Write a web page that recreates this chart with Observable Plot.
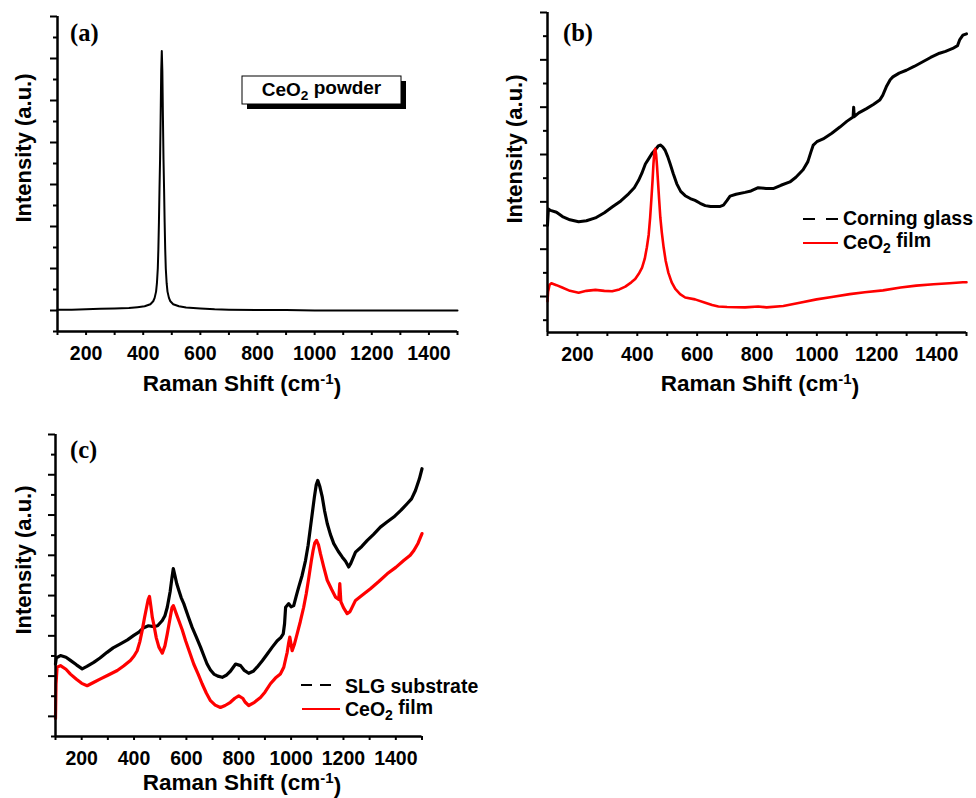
<!DOCTYPE html>
<html>
<head>
<meta charset="utf-8">
<script src="https://cdn.jsdelivr.net/npm/d3@7"></script>
<script src="https://cdn.jsdelivr.net/npm/@observablehq/plot@0.6"></script>
<style>
  html, body { margin: 0; padding: 0; background: #fff; }
  #wrap { position: relative; width: 976px; height: 798px; background: #fff; overflow: hidden; }
</style>
</head>
<body>
<div id="wrap"></div>
<script>
// ---------------- data (Raman shift cm^-1, intensity in arbitrary tick units) ----------------
const xTickValues = [100,200,300,400,500,600,700,800,900,1000,1100,1200,1300,1400,1500];
const xTickLabels = [200,400,600,800,1000,1200,1400];

// (a) CeO2 powder
const aPowder = [[100,0.02],[150,0.02],[200,0.03],[250,0.04],[300,0.05],[350,0.06],[380,0.08],[405,0.1],[425,0.15],[435,0.22],
  [440,0.3],[445,0.45],[448,0.65],[451,1.0],[453,1.45],[455,2.1],[457,2.9],[459,3.6],[461,4.6],[463,5.7],
  [465,6.18],[467,5.7],[469,4.6],[471,3.6],[473,2.9],[475,2.1],[477,1.45],[479,1.0],[482,0.65],[485,0.45],
  [490,0.3],[495,0.22],[505,0.15],[525,0.1],[550,0.07],[600,0.05],[650,0.03],[700,0.02],[800,0.01],[900,0.01],
  [1000,0],[1100,0],[1200,0],[1300,0],[1400,0],[1500,0]];

// (b) Corning glass and CeO2 film
const bGlass = [[100,1.5],[103,1.85],[110,1.82],[130,1.78],[150,1.69],[175,1.62],[204,1.58],[230,1.6],[260,1.66],[290,1.77],
  [316,1.89],[345,2.02],[371,2.17],[390,2.3],[404,2.45],[415,2.6],[427,2.8],[440,2.93],[449,3.02],[460,3.1],
  [470,3.18],[477,3.2],[485,3.16],[493,3.09],[502,2.95],[510,2.8],[520,2.6],[532,2.38],[545,2.22],[560,2.13],
  [577,2.07],[593,2.03],[610,1.97],[627,1.92],[645,1.9],[660,1.9],[675,1.9],[688,1.93],[700,2.03],[710,2.12],
  [730,2.16],[760,2.2],[780,2.23],[804,2.3],[830,2.28],[854,2.28],[880,2.35],[910,2.42],[930,2.52],[954,2.68],
  [970,2.85],[980,3.05],[988,3.2],[1000,3.27],[1021,3.33],[1050,3.45],[1077,3.58],[1100,3.7],[1121,3.79],[1123,4.0],
  [1125,3.8],[1140,3.88],[1166,3.97],[1190,4.06],[1210,4.15],[1220,4.25],[1232,4.43],[1245,4.58],[1254,4.64],[1275,4.72],
  [1299,4.78],[1325,4.86],[1354,4.96],[1380,5.05],[1410,5.14],[1430,5.18],[1454,5.24],[1470,5.3],[1477,5.42],[1488,5.52],[1500,5.55]];
const bFilm = [[100,-0.1],[102,0.1],[107,0.25],[113,0.28],[130,0.24],[149,0.19],[175,0.12],[204,0.08],[230,0.12],[260,0.14],
  [290,0.12],[316,0.11],[340,0.15],[360,0.21],[380,0.3],[393,0.37],[405,0.48],[416,0.61],[425,0.8],[432,1.04],
  [438,1.3],[443,1.67],[447,2.05],[451,2.45],[454,2.8],[457,3.05],[460,3.12],[463,3.0],[466,2.75],[469,2.45],
  [473,2.05],[477,1.67],[482,1.35],[488,1.04],[495,0.75],[504,0.5],[515,0.3],[527,0.16],[543,0.05],[560,-0.02],
  [593,-0.06],[627,-0.13],[650,-0.18],[671,-0.21],[700,-0.22],[760,-0.23],[804,-0.21],[832,-0.23],[888,-0.2],[943,-0.13],
  [999,-0.06],[1050,-0.01],[1110,0.05],[1160,0.09],[1221,0.13],[1280,0.19],[1332,0.23],[1390,0.26],[1443,0.28],[1488,0.3],[1500,0.3]];

// (c) SLG substrate and CeO2 film
const cSubstrate = [[100,1.3],[103,1.45],[119,1.51],[140,1.47],[157,1.39],[180,1.28],[202,1.18],[220,1.24],[246,1.34],[270,1.45],
  [297,1.59],[320,1.7],[348,1.8],[375,1.9],[399,2.01],[420,2.1],[437,2.2],[455,2.25],[475,2.23],[490,2.25],
  [508,2.38],[518,2.5],[527,2.71],[538,3.1],[545,3.45],[550,3.67],[556,3.5],[563,3.3],[571,3.13],[580,2.95],
  [590,2.8],[606,2.5],[622,2.21],[638,1.97],[654,1.72],[667,1.5],[679,1.3],[692,1.15],[705,1.05],[720,1.0],
  [737,0.97],[752,1.02],[768,1.12],[788,1.3],[807,1.26],[820,1.15],[838,1.07],[855,1.12],[870,1.22],[890,1.38],
  [909,1.55],[928,1.72],[947,1.88],[960,1.95],[970,2.05],[975,2.3],[979,2.71],[991,2.8],[1000,2.72],[1010,2.75],
  [1020,3.0],[1029,3.21],[1042,3.5],[1055,3.87],[1065,4.25],[1074,4.7],[1082,5.1],[1089,5.45],[1096,5.75],[1102,5.86],
  [1110,5.7],[1119,5.45],[1128,5.1],[1138,4.79],[1150,4.52],[1163,4.29],[1180,4.1],[1195,3.96],[1208,3.85],[1220,3.71],
  [1228,3.8],[1246,4.08],[1270,4.22],[1291,4.37],[1315,4.52],[1341,4.7],[1365,4.82],[1392,4.95],[1420,5.12],[1443,5.28],
  [1460,5.4],[1475,5.61],[1490,5.9],[1500,6.15]];
const cFilm = [[100,-0.05],[102,0.8],[106,1.22],[119,1.26],[140,1.17],[157,1.05],[180,0.92],[200,0.82],[221,0.76],[245,0.84],
  [272,0.93],[300,1.02],[336,1.14],[360,1.25],[386,1.39],[400,1.5],[412,1.63],[422,1.85],[431,2.13],[440,2.45],
  [448,2.71],[454,2.9],[459,2.98],[464,2.75],[470,2.45],[475,2.3],[485,1.95],[495,1.72],[508,1.57],[518,1.75],
  [527,2.05],[538,2.45],[545,2.7],[550,2.75],[556,2.65],[563,2.52],[571,2.38],[584,2.15],[597,1.88],[612,1.6],
  [628,1.3],[645,1.05],[660,0.81],[676,0.58],[692,0.39],[710,0.28],[730,0.22],[748,0.27],[768,0.35],[785,0.45],
  [800,0.51],[815,0.45],[825,0.35],[838,0.27],[860,0.35],[883,0.47],[900,0.6],[921,0.81],[940,0.95],[959,1.05],
  [972,1.22],[980,1.45],[985,1.59],[990,1.8],[995,1.97],[1004,1.63],[1013,1.8],[1023,2.05],[1035,2.35],[1048,2.71],
  [1058,3.05],[1068,3.46],[1077,3.85],[1084,4.12],[1090,4.3],[1097,4.37],[1105,4.25],[1112,4.04],[1125,3.7],[1138,3.38],
  [1155,3.15],[1170,2.96],[1182,2.9],[1186,3.3],[1190,2.85],[1200,2.7],[1214,2.55],[1225,2.6],[1246,2.88],[1270,3.0],
  [1303,3.17],[1335,3.35],[1367,3.54],[1400,3.7],[1430,3.87],[1455,4.0],[1469,4.12],[1485,4.3],[1500,4.54]];

// y tick positions (major / minor) for each panel
const aYMajor = [0,1,2,3,4,5,6,7];
const aYMinor = [-0.5,0.5,1.5,2.5,3.5,4.5,5.5,6.5];
const bYMajor = [0,1,2,3,4,5,6];
const bYMinor = [-0.5,0.5,1.5,2.5,3.5,4.5,5.5];
const cYMajor = [0,1,2,3,4,5,6,7];
const cYMinor = [-0.5,0.5,1.5,2.5,3.5,4.5,5.5,6.5];

// ---------------- drawing ----------------
const FONT = "'Liberation Sans', Arial, Helvetica, sans-serif";
const SERIF = "'Liberation Serif', 'Times New Roman', Times, serif";
const wrap = document.getElementById("wrap");
const toObj = arr => arr.map(([x, y]) => ({x, y}));

function panel({left, top, width, height, mL, mR, mT, mB, yDomain, yMajor, yMinor, series}) {
  const p = Plot.plot({
    width, height,
    marginLeft: mL, marginRight: mR, marginTop: mT, marginBottom: mB,
    x: {domain: [100, 1500]},
    y: {domain: yDomain},
    style: {fontFamily: FONT, fontSize: "19.5px", fontWeight: "bold", color: "black", background: "transparent", overflow: "visible"},
    marks: [
      ...series.map(s => Plot.line(toObj(s.data), {x: "x", y: "y", stroke: s.color, strokeWidth: s.sw})),
      Plot.axisY({ticks: yMajor, tickSize: 7, tickFormat: () => "", label: null, strokeWidth: 2}),
      Plot.axisY({ticks: yMinor, tickSize: 4, tickFormat: () => "", label: null, strokeWidth: 2}),
      Plot.axisX({ticks: xTickValues, tickSize: 4, tickPadding: 11, label: null, strokeWidth: 2,
        tickFormat: d => xTickLabels.includes(d) ? String(d) : ""}),
      Plot.ruleX([100], {strokeWidth: 2.5}),
      Plot.ruleY([yDomain[0]], {strokeWidth: 2.5})
    ]
  });
  p.style.position = "absolute";
  p.style.left = left + "px";
  p.style.top = top + "px";
  wrap.appendChild(p);
}

panel({left: 0, top: 0, width: 490, height: 400, mL: 57, mR: 33, mT: 16, mB: 69,
  yDomain: [-0.5, 7], yMajor: aYMajor, yMinor: aYMinor,
  series: [{data: aPowder, color: "#000", sw: 2}]});

panel({left: 490, top: 0, width: 486, height: 400, mL: 57, mR: 10, mT: 12, mB: 68,
  yDomain: [-0.76, 6], yMajor: bYMajor, yMinor: bYMinor,
  series: [{data: bGlass, color: "#000", sw: 3}, {data: bFilm, color: "#ff0000", sw: 2.6}]});

panel({left: 0, top: 400, width: 490, height: 398, mL: 55, mR: 68.5, mT: 34, mB: 62,
  yDomain: [-0.5, 7], yMajor: cYMajor, yMinor: cYMinor,
  series: [{data: cSubstrate, color: "#000", sw: 3.2}, {data: cFilm, color: "#ff0000", sw: 3.2}]});

// ---------------- text overlay ----------------
const svg = d3.select(wrap).append("svg")
  .attr("width", 976).attr("height", 798)
  .style("position", "absolute").style("left", 0).style("top", 0)
  .style("pointer-events", "none");

function ramanTitle(cx, y) {
  const t = svg.append("text").attr("x", cx).attr("y", y).attr("text-anchor", "middle")
    .attr("font-family", FONT).attr("font-weight", "bold").attr("font-size", 22.5);
  t.append("tspan").text("Raman Shift (cm");
  t.append("tspan").attr("dy", "-0.45em").attr("font-size", 15).text("-1");
  t.append("tspan").attr("dy", "0.45em").text(")");
}
function intensityTitle(x, cy) {
  svg.append("text").attr("transform", `translate(${x},${cy}) rotate(-90)`).attr("text-anchor", "middle")
    .attr("font-family", FONT).attr("font-weight", "bold").attr("font-size", 22)
    .text("Intensity (a.u.)");
}
function panelLetter(x, y, s) {
  svg.append("text").attr("x", x).attr("y", y).attr("font-family", SERIF).attr("font-weight", "bold")
    .attr("font-size", 24.5).text(s);
}
function ceo2(x, y, rest, anchor, fs) {
  fs = fs || 19.5;
  const t = svg.append("text").attr("x", x).attr("y", y).attr("text-anchor", anchor || "start")
    .attr("font-family", FONT).attr("font-weight", "bold").attr("font-size", fs);
  t.append("tspan").text("CeO");
  t.append("tspan").attr("dy", "0.3em").attr("font-size", fs * 0.72).text("2");
  t.append("tspan").attr("dy", "-0.3em").text(rest);
}
function plain(x, y, s) {
  svg.append("text").attr("x", x).attr("y", y).attr("font-family", FONT).attr("font-weight", "bold")
    .attr("font-size", 19.5).text(s);
}

ramanTitle(242, 390.5); ramanTitle(760, 390.5); ramanTitle(242, 789.5);
intensityTitle(31, 148); intensityTitle(521.5, 149); intensityTitle(31, 560);
panelLetter(70, 40.5, "(a)"); panelLetter(563, 40.5, "(b)"); panelLetter(70, 458, "(c)");

// (a) boxed label with shadow
svg.append("rect").attr("x", 247).attr("y", 81).attr("width", 159).attr("height", 28).attr("fill", "#000");
svg.append("rect").attr("x", 242).attr("y", 76).attr("width", 159).attr("height", 28).attr("fill", "#fff")
  .attr("stroke", "#000").attr("stroke-width", 1);
ceo2(321.5, 95.5, " powder", "middle", 19);

// (b) legend
svg.append("line").attr("x1", 803).attr("x2", 838).attr("y1", 219).attr("y2", 219)
  .attr("stroke", "#000").attr("stroke-width", 2).attr("stroke-dasharray", "12,11");
plain(843, 225, "Corning glass");
svg.append("line").attr("x1", 803).attr("x2", 838).attr("y1", 243).attr("y2", 243)
  .attr("stroke", "#ff0000").attr("stroke-width", 2);
ceo2(843, 248.5, " film");

// (c) legend
svg.append("line").attr("x1", 301).attr("x2", 331).attr("y1", 685).attr("y2", 685)
  .attr("stroke", "#000").attr("stroke-width", 2).attr("stroke-dasharray", "11,8");
plain(345, 692.5, "SLG substrate");
svg.append("line").attr("x1", 302).attr("x2", 340).attr("y1", 709).attr("y2", 709)
  .attr("stroke", "#ff0000").attr("stroke-width", 2);
ceo2(345, 716, " film");
</script>
</body>
</html>
